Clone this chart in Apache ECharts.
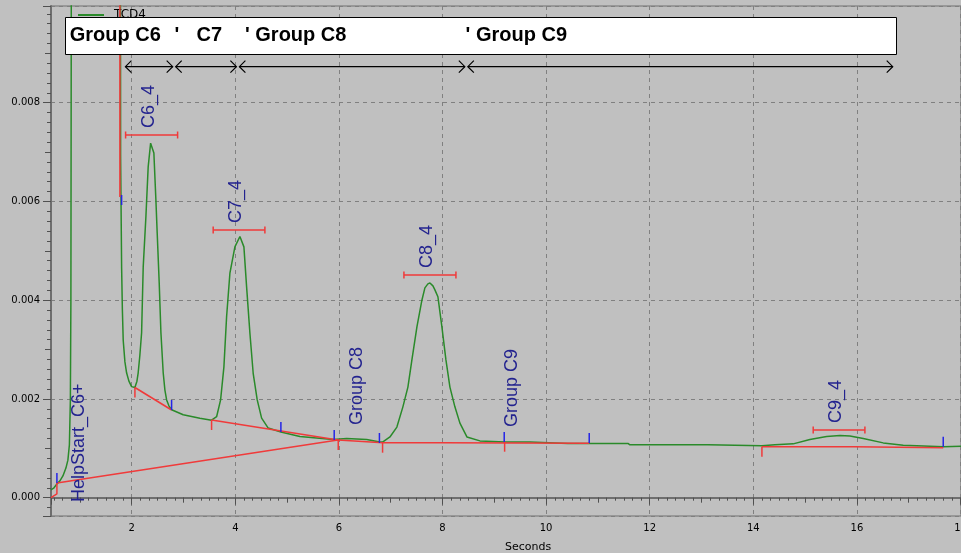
<!DOCTYPE html>
<html>
<head>
<meta charset="utf-8">
<script src="https://cdn.jsdelivr.net/npm/echarts@6/dist/echarts.min.js"></script>
<style>
  html, body { margin: 0; padding: 0; background: #c0c0c0; }
  #chart { width: 961px; height: 553px; }
</style>
</head>
<body>
<div id="chart"></div>
<script>
// TCD4 detector signal: [seconds, response]
const traceTCD4 = [
  [0.44,0.00016],[0.50,0.00020],[0.556,0.00028],[0.614,0.00034],[0.672,0.00044],[0.73,0.00060],
  [0.768,0.00076],[0.797,0.00107],[0.816,0.00198],[0.826,0.0040],[0.836,0.012],[0.86,0.05],
  [1.76,0.05],[1.782,0.012],[1.786,0.0069],[1.805,0.00467],[1.82,0.0038],[1.836,0.00319],
  [1.869,0.00275],[1.901,0.00253],[1.946,0.00236],[1.998,0.00225],[2.062,0.00223],[2.101,0.00236],
  [2.125,0.00253],[2.158,0.00289],[2.191,0.00334],[2.222,0.00467],[2.274,0.00569],[2.318,0.0067],
  [2.365,0.00718],[2.396,0.00721],[2.428,0.00698],[2.467,0.00603],[2.492,0.00536],[2.531,0.00435],
  [2.564,0.00334],[2.608,0.00253],[2.641,0.00218],[2.674,0.00198],[2.718,0.00186],[2.77,0.00178],
  [2.994,0.00168],[3.316,0.00161],[3.542,0.00157],[3.639,0.00164],[3.716,0.00198],[3.78,0.00265],
  [3.832,0.00367],[3.896,0.00455],[3.992,0.00508],[4.089,0.00529],[4.166,0.00508],[4.218,0.00427],
  [4.282,0.00333],[4.345,0.00252],[4.423,0.00198],[4.508,0.00161],[4.635,0.00141],[4.88,0.00133],
  [5.247,0.00124],[5.89,0.00118],[6.149,0.0012],[6.535,0.00118],[6.791,0.00113],[6.849,0.00113],
  [6.985,0.00123],[7.119,0.00143],[7.235,0.00184],[7.332,0.00224],[7.409,0.00279],[7.506,0.00346],
  [7.602,0.0040],[7.66,0.00425],[7.718,0.00433],[7.757,0.00435],[7.815,0.00429],[7.853,0.00421],
  [7.911,0.00407],[7.988,0.00346],[8.066,0.00279],[8.143,0.00224],[8.239,0.00184],[8.336,0.00151],
  [8.471,0.00123],[8.722,0.00115],[9.204,0.00113],[9.687,0.00113],[10.421,0.0011],[11.579,0.0011],
  [11.618,0.00107],[13.124,0.00107],[13.162,0.00105],[14.166,0.00105],[14.417,0.00107],[14.77,0.00109],
  [15.092,0.00118],[15.415,0.00124],[15.672,0.00126],[15.865,0.00125],[16.122,0.0012],[16.508,0.00111],
  [16.894,0.00106],[17.666,0.00103],[18.01,0.00104]
];

// Integration baselines, one polyline each
const baselines = [
  [[0.442,0.0],[0.556,0.000075],[0.556,0.000297],[5.981,0.001169]],
  [[1.772,0.012],[1.772,0.00609]],
  [[2.062,0.002232],[2.770,0.001776]],
  [[3.542,0.001574],[5.981,0.001169]],
  [[5.981,0.001169],[6.849,0.001114],[7.983,0.001114],[8.002,0.001134],[10.832,0.001102]],
  [[14.166,0.001033],[15.94,0.001033],[15.94,0.001013],[17.666,0.001013]]
];

// Peak start (red) and peak end (blue) markers
const peakStarts = [[2.062,0.002232],[3.542,0.001574],[5.987,0.001169],[6.843,0.001114],[9.199,0.001134],[14.166,0.001033]];
const peakEnds = [[0.556,0.000297],[1.805,0.005928],[2.770,0.001776],[4.880,0.001331],[5.909,0.001169],
                  [6.782,0.001108],[9.191,0.001128],[10.832,0.001108],[17.666,0.001033]];

// Named peaks with their retention windows
const peakNames = ['C6_4', 'C7_4', 'C8_4', 'C9_4'];
const peakWindowStart = [1.882, 3.573, 7.255, 15.156];
const peakWindowEnd = [2.886, 4.571, 8.259, 16.154];
const peakLabelLevel = [0.007346, 0.005422, 0.004511, 0.001371];

// Timed events
const eventNames = ['HelpStart_C6+', 'Group C8', 'Group C9'];
const eventTimes = [0.98, 6.342, 9.346];
const eventLevels = [-0.000087, 0.001472, 0.001432];

// Group timetable
const groupNames = ['Group C6', 'C7', 'Group C8', 'Group C9'];
const groupStart = [1.85, 2.82, 4.05, 8.46];
const groupEnd = [2.82, 4.05, 8.46, 16.72];
const headerTexts = ['Group C6', "'", 'C7', "' Group C8", "' Group C9"];
const headerX = [69.7, 174.6, 196.6, 245, 465.6];

const X_MIN = 0.442, X_MAX = 18.009;
const Y_MIN = -0.000371, Y_MAX = 0.009959;

const GREEN = '#2a8a2a', RED = '#f03a3a', BLUE = '#2424e6', NAVY = '#23238f';
const AXIS = '#6e6e6e', TICK = '#505050', GRIDLINE = '#808080';
const TICK_FONT = 'DejaVu Sans';

const chart = echarts.init(document.getElementById('chart'), null, { renderer: 'canvas' });

function markRenderer(color, dir) {
  return function (params, api) {
    const p = api.coord([api.value(0), api.value(1)]);
    return {
      type: 'line',
      shape: { x1: p[0], y1: p[1], x2: p[0], y2: p[1] + dir * 10 },
      style: { stroke: color, lineWidth: 1.5 }
    };
  };
}

const series = [
  {
    name: 'TCD4', type: 'line', data: traceTCD4, showSymbol: false, symbol: 'none',
    smooth: false, clip: true, z: 3,
    lineStyle: { color: GREEN, width: 1.5 }, itemStyle: { color: GREEN }
  }
];

baselines.forEach(function (seg) {
  series.push({
    type: 'line', data: seg, showSymbol: false, symbol: 'none', clip: true, z: 4,
    lineStyle: { color: RED, width: 1.5 }, silent: true
  });
});

series.push({
  type: 'custom', data: peakStarts, renderItem: markRenderer(RED, 1), z: 5, silent: true
});
series.push({
  type: 'custom', data: peakEnds, renderItem: markRenderer(BLUE, -1), z: 5, silent: true
});

// Peak windows with vertical names
series.push({
  type: 'custom', z: 6, silent: true,
  data: peakWindowStart.map(function (s, i) { return [s, peakWindowEnd[i], peakLabelLevel[i]]; }),
  encode: { x: [0, 1], y: 2 },
  renderItem: function (params, api) {
    const a = api.coord([api.value(0), api.value(2)]);
    const b = api.coord([api.value(1), api.value(2)]);
    const st = { stroke: RED, lineWidth: 1.5 };
    return {
      type: 'group',
      children: [
        { type: 'line', shape: { x1: a[0], y1: a[1], x2: b[0], y2: b[1] }, style: st },
        { type: 'line', shape: { x1: a[0], y1: a[1] - 3.5, x2: a[0], y2: a[1] + 3.5 }, style: st },
        { type: 'line', shape: { x1: b[0], y1: b[1] - 3.5, x2: b[0], y2: b[1] + 3.5 }, style: st },
        {
          type: 'text', x: (a[0] + b[0]) / 2 - 3, y: a[1] - 7, rotation: Math.PI / 2,
          style: {
            text: peakNames[params.dataIndex], fill: NAVY,
            font: '18px "Liberation Sans", Arial, sans-serif', align: 'left', verticalAlign: 'middle'
          }
        }
      ]
    };
  }
});

// Event names
series.push({
  type: 'custom', z: 6, silent: true,
  data: eventTimes.map(function (t, i) { return [t, eventLevels[i]]; }),
  renderItem: function (params, api) {
    const p = api.coord([api.value(0), api.value(1)]);
    return {
      type: 'text', x: p[0], y: p[1], rotation: Math.PI / 2,
      style: {
        text: eventNames[params.dataIndex], fill: NAVY,
        font: '18px "Liberation Sans", Arial, sans-serif', align: 'left', verticalAlign: 'middle'
      }
    };
  }
});

// Group ranges as double-headed arrows under the timetable bar
series.push({
  type: 'custom', z: 6, silent: true,
  data: groupStart.map(function (s, i) { return [s, groupEnd[i], 0]; }),
  encode: { x: [0, 1], y: 2 },
  renderItem: function (params, api) {
    const x1 = api.coord([api.value(0), 0])[0] + 1.5;
    const x2 = api.coord([api.value(1), 0])[0] - 1.5;
    const y = 66.7;
    const st = { stroke: '#000', lineWidth: 1.2, fill: null };
    return {
      type: 'group',
      children: [
        { type: 'line', shape: { x1: x1, y1: y, x2: x2, y2: y }, style: st },
        { type: 'polyline', shape: { points: [[x1 + 6, y - 6], [x1, y], [x1 + 6, y + 6]] }, style: st },
        { type: 'polyline', shape: { points: [[x2 - 6, y - 6], [x2, y], [x2 - 6, y + 6]] }, style: st }
      ]
    };
  }
});

const headerChildren = [{
  type: 'rect', shape: { x: 65.5, y: 17.5, width: 831, height: 37 },
  style: { fill: '#ffffff', stroke: '#000000', lineWidth: 1 }, z: 100
}];
headerTexts.forEach(function (txt, i) {
  headerChildren.push({
    type: 'text', x: headerX[i], y: 35, z: 101,
    style: {
      text: txt, fill: '#000', font: 'bold 20px "Liberation Sans", Arial, sans-serif',
      align: 'left', verticalAlign: 'middle'
    }
  });
});

const option = {
  animation: false,
  backgroundColor: '#c0c0c0',
  grid: {
    left: 51, right: 0, top: 6, bottom: 37, show: true, outerBoundsMode: 'none',
    borderColor: '#707070', borderWidth: 1, backgroundColor: 'transparent'
  },
  legend: {
    data: ['TCD4'], left: 78, top: 9, icon: 'rect', itemWidth: 26, itemHeight: 2,
    padding: 0, selectedMode: false,
    textStyle: { fontFamily: TICK_FONT, fontSize: 12, color: '#000', padding: [0, 0, 0, 5] }
  },
  xAxis: [
    {
      type: 'value', min: X_MIN, max: X_MAX, splitNumber: 9, position: 'bottom',
      name: 'Seconds', nameLocation: 'middle', nameGap: 26,
      nameTextStyle: { fontFamily: TICK_FONT, fontSize: 11, color: '#000', padding: [0, 0, 0, 44] },
      axisLine: { show: true, lineStyle: { color: AXIS, width: 2 } },
      axisTick: { show: true, length: 7, lineStyle: { color: TICK, width: 1 } },
      minorTick: { show: true, splitNumber: 12, length: 3, lineStyle: { color: TICK, width: 1 } },
      axisLabel: {
        showMinLabel: false, showMaxLabel: false, margin: 7,
        fontFamily: TICK_FONT, fontSize: 10, color: '#000',
        formatter: function (v) { return String(Math.round(v)); }
      },
      splitLine: { show: true, lineStyle: { color: GRIDLINE, type: [4, 4], width: 1 } }
    },
    {
      type: 'value', min: X_MIN, max: X_MAX, splitNumber: 18, position: 'bottom',
      axisLine: { show: false }, axisLabel: { show: false }, splitLine: { show: false },
      axisTick: { show: true, length: 5, lineStyle: { color: TICK, width: 1 } }
    }
  ],
  yAxis: [
    {
      type: 'value', min: Y_MIN, max: Y_MAX, splitNumber: 5, position: 'left',
      axisLine: { show: true, lineStyle: { color: AXIS, width: 2 } },
      axisTick: { show: true, length: 8, lineStyle: { color: TICK, width: 1 } },
      minorTick: { show: true, splitNumber: 10, length: 4, lineStyle: { color: TICK, width: 1 } },
      axisLabel: {
        showMinLabel: false, showMaxLabel: false, margin: 11,
        fontFamily: TICK_FONT, fontSize: 10, color: '#000',
        formatter: function (v) { return v.toFixed(3); }
      },
      splitLine: { show: true, lineStyle: { color: GRIDLINE, type: [4, 4], width: 1 } }
    },
    {
      type: 'value', min: Y_MIN, max: Y_MAX, splitNumber: 10, position: 'left',
      axisLine: { show: false }, axisLabel: { show: false }, splitLine: { show: false },
      axisTick: { show: true, length: 6, lineStyle: { color: TICK, width: 1 } }
    }
  ],
  series: series,
  graphic: [{ type: 'group', children: headerChildren }]
};

chart.setOption(option);
</script>
</body>
</html>
